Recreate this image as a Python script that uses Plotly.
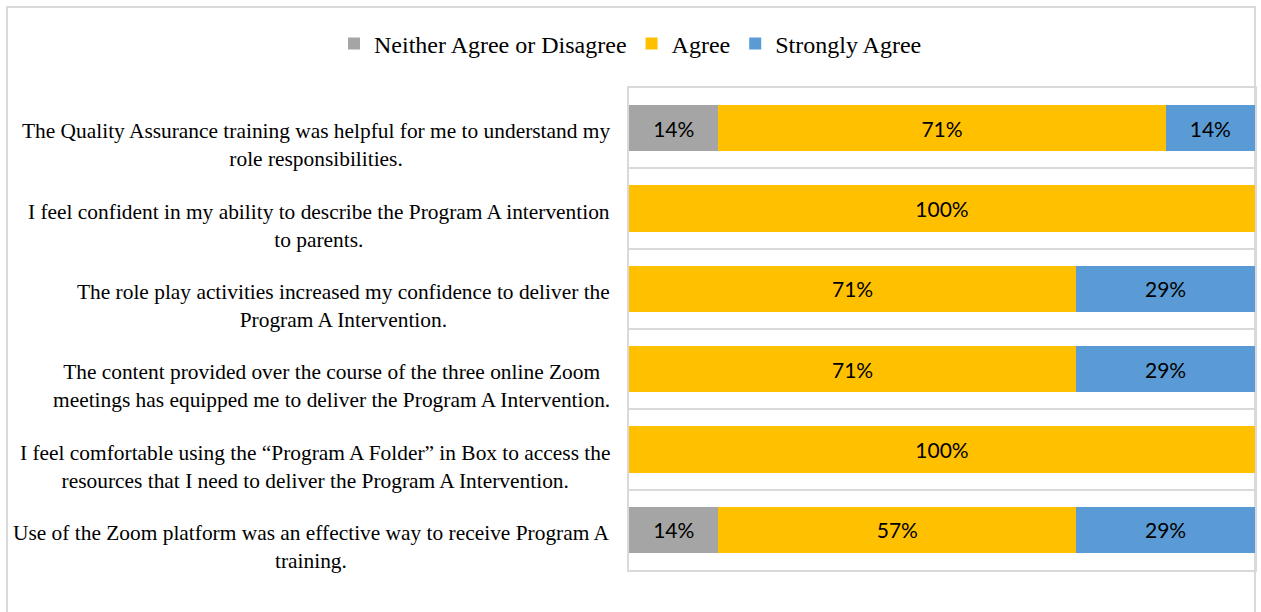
import plotly.graph_objects as go

categories = [
    "The Quality Assurance training was helpful for me to understand my<br>role responsibilities.",
    "I feel confident in my ability to describe the Program A intervention<br>to parents.",
    "The role play activities increased my confidence to deliver the<br>Program A Intervention.",
    "The content provided over the course of the three online Zoom<br>meetings has equipped me to deliver the Program A Intervention.",
    "I feel comfortable using the \u201cProgram A Folder\u201d in Box to access the<br>resources that I need to deliver the Program A Intervention.",
    "Use of the Zoom platform was an effective way to receive Program A<br>training.",
]
neither = [14.29, None, None, None, None, 14.29]
agree = [71.43, 100, 71.43, 71.43, 100, 57.14]
strongly = [14.29, None, 28.57, 28.57, None, 28.57]

series = [
    ("Neither Agree or Disagree", neither, "#A5A5A5"),
    ("Agree", agree, "#FFC000"),
    ("Strongly Agree", strongly, "#5B9BD5"),
]

fig = go.Figure()
for name, vals, color in series:
    fig.add_trace(go.Bar(
        y=categories, x=vals, name=name, orientation="h",
        marker=dict(color=color, line=dict(width=0)),
        texttemplate="%{x:.0f}%", textposition="inside",
        insidetextanchor="middle", textangle=0, constraintext="none",
        textfont=dict(family="Lato", size=21, color="#000000"),
        hoverinfo="skip",
    ))

for c in categories:
    fig.add_annotation(
        x=0, xref="paper", y=c, yref="y", text=c, showarrow=False,
        xanchor="right", yanchor="middle", align="center", xshift=-17,
        yshift=-17,
        font=dict(family="Liberation Serif", size=21.4, color="#000000"),
    )

fig.add_shape(type="rect", xref="paper", yref="paper",
              x0=-(629 - 7) / 626, x1=1.0, y0=-0.2, y1=(570 - 7) / 482,
              line=dict(color="#D9D9D9", width=2), fillcolor="rgba(0,0,0,0)",
              layer="below")

n = len(categories)
fig.update_layout(
    barmode="stack", bargap=0.425,
    width=1261, height=612,
    margin=dict(l=629, r=6, t=88, b=42, autoexpand=False),
    paper_bgcolor="white", plot_bgcolor="white",
    showlegend=True,
    legend=dict(orientation="h", xref="container", yref="container",
                x=0.5, xanchor="center", y=1 - 44 / 612, yanchor="middle",
                font=dict(family="Liberation Serif", size=24, color="#000000"),
                traceorder="normal", itemclick=False, itemwidth=30),
    xaxis=dict(range=[0, 100], showticklabels=False, showgrid=False,
               zeroline=False, showline=True, mirror=True,
               linecolor="#D9D9D9", linewidth=2, ticks=""),
    yaxis=dict(type="category", range=[n - 0.5, -0.5], autorange=False,
               showticklabels=False,
               tickson="boundaries", showgrid=True, gridcolor="#D9D9D9",
               gridwidth=2, showline=True, mirror=True,
               linecolor="#D9D9D9", linewidth=2, ticks=""),
)

fig.write_html("out.html")
